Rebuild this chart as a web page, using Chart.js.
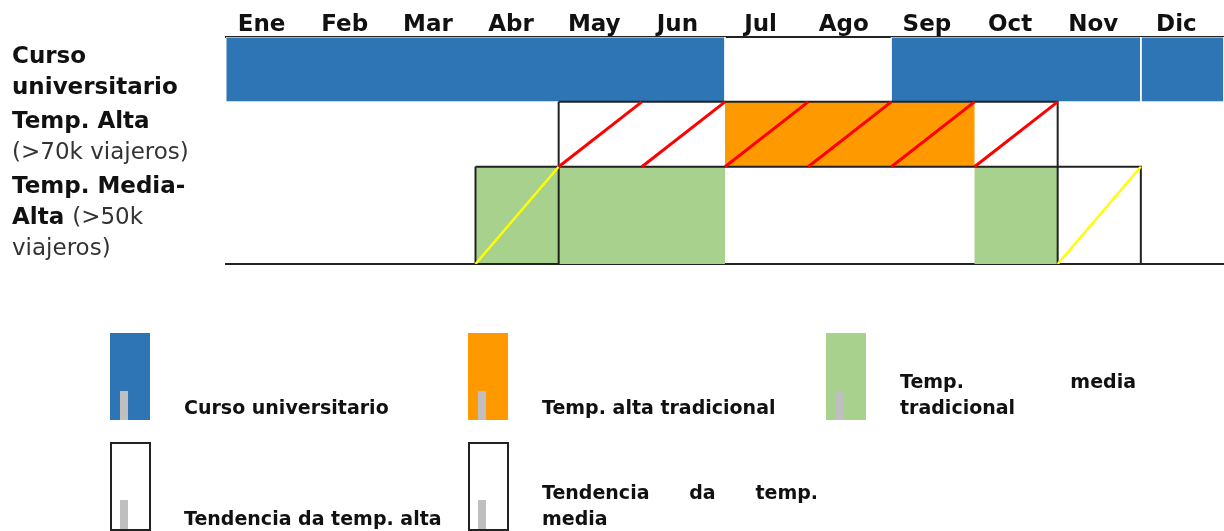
<!DOCTYPE html>
<html lang="es">
<head>
<meta charset="utf-8">
<title>Temporadas de viajeros</title>
<script src="https://cdn.jsdelivr.net/npm/chart.js@4.4.1/dist/chart.umd.min.js"></script>
<style>
  body { margin: 0; background: #fff; }
  #wrap { position: relative; width: 1224px; height: 531px; overflow: hidden; font-family: "DejaVu Sans", sans-serif; }
  #legend .item { position: absolute; display: flex; align-items: flex-end; }
  #legend .icon { position: relative; flex: none; box-sizing: border-box; width: 40px; height: 87px; }
  #legend .icon.outline { width: 41px; height: 89px; border: 2px solid #222; background: #fff; }
  #legend .icon i { position: absolute; left: 10px; bottom: 0; width: 8px; height: 29px; background: #bfbfbf; }
  #legend .icon.outline i { left: 8px; }
  #legend .lbl { font-weight: bold; font-size: 19px; line-height: 26px; text-align: justify; color: #111; }
</style>
</head>
<body>
<div id="wrap">
  <canvas id="gantt"></canvas>
  <div id="legend"></div>
</div>
<script>
const months = ['Ene', 'Feb', 'Mar', 'Abr', 'May', 'Jun', 'Jul', 'Ago', 'Sep', 'Oct', 'Nov', 'Dic'];

// tramos de meses [desde, hasta) con 0 = Ene
const cursoUniversitario = [[0, 6], [8, 11], [11, 12]];
const altaTradicional = [[6, 9]];
const mediaTradicional = [[3, 6], [9, 10]];
const tendenciaAlta = [[4, 10]];
const tendenciaMedia = [[3, 4], [10, 11]];

const rowLabels = [
  [[['Curso', true]], [['universitario', true]]],
  [[['Temp. Alta', true]], [['(>70k viajeros)', false]]],
  [[['Temp. Media-', true]], [['Alta', true], ['(>50k', false]], [['viajeros)', false]]],
];

// bandas verticales de cada fila en unidades del eje y
const rowBands = [[0, 2], [2, 4], [4, 7]];

const BLUE = '#2e75b6';
const ORANGE = '#ff9900';
const GREEN = '#a9d18e';
const RED = '#ff0000';
const YELLOW = '#ffff00';
const LINE = '#222';

function rects(ranges, band, style) {
  return ranges.map(([a, b]) => Object.assign({
    data: [
      { x: a, y: band[0] }, { x: b, y: band[0] },
      { x: b, y: band[1] }, { x: a, y: band[1] },
      { x: a, y: band[0] }
    ],
    pointRadius: 0,
    borderJoinStyle: 'miter'
  }, style));
}

function diagonals(ranges, band, color, width) {
  const out = [];
  ranges.forEach(([a, b]) => {
    for (let m = a; m < b; m++) {
      out.push({
        data: [{ x: m, y: band[1] }, { x: m + 1, y: band[0] }],
        pointRadius: 0,
        borderColor: color,
        borderWidth: width,
        fill: false,
        order: 1
      });
    }
  });
  return out;
}

const fillStyle = (color) => ({ backgroundColor: color, borderColor: 'transparent', borderWidth: 0, fill: 'shape', order: 3 });
const boxStyle = { borderColor: LINE, borderWidth: 2, fill: false, order: 2 };

const datasets = [
  ...rects(cursoUniversitario, rowBands[0], Object.assign(fillStyle(BLUE), { borderColor: '#fff', borderWidth: 1 })),
  ...rects(altaTradicional, rowBands[1], fillStyle(ORANGE)),
  ...rects(mediaTradicional, rowBands[2], fillStyle(GREEN)),
  ...rects(tendenciaAlta, rowBands[1], boxStyle),
  ...rects(tendenciaMedia, rowBands[2], boxStyle),
  ...diagonals(tendenciaAlta, rowBands[1], RED, 3),
  ...diagonals(tendenciaMedia, rowBands[2], YELLOW, 2.5)
];

const rowLabelPlugin = {
  id: 'rowLabels',
  afterDraw(chart) {
    const { ctx, scales: { y } } = chart;
    ctx.save();
    ctx.textBaseline = 'middle';
    rowLabels.forEach((lines, r) => {
      const top = y.getPixelForValue(rowBands[r][0]);
      lines.forEach((segs, i) => {
        let x = 12;
        const yy = top + 20 + i * 31;
        segs.forEach(([text, bold]) => {
          ctx.font = (bold ? 'bold ' : '') + '23px "DejaVu Sans"';
          ctx.fillStyle = bold ? '#111' : '#333';
          ctx.fillText(text, x, yy);
          x += ctx.measureText(text + ' ').width;
        });
      });
    });
    ctx.restore();
  }
};

new Chart(document.getElementById('gantt'), {
  type: 'line',
  data: { datasets },
  options: {
    responsive: true,
    maintainAspectRatio: false,
    animation: false,
    events: [],
    layout: { padding: { left: 226, right: 0, top: 0, bottom: 267 } },
    elements: { line: { tension: 0 } },
    plugins: { legend: { display: false }, tooltip: { enabled: false } },
    scales: {
      x: {
        type: 'linear',
        position: 'top',
        min: 0,
        max: 12,
        z: 1,
        grid: { display: false, drawTicks: false },
        border: { display: true, color: LINE, width: 2 },
        afterBuildTicks: (scale) => { scale.ticks = months.map((m, i) => ({ value: i + 0.5 })); },
        afterFit: (scale) => { scale.height = 37; },
        ticks: {
          autoSkip: false,
          maxRotation: 0,
          padding: -2,
          labelOffset: -6,
          color: '#111',
          font: { family: 'DejaVu Sans', size: 23, weight: 'bold' },
          callback: (v, i) => months[i]
        }
      },
      xb: {
        type: 'linear',
        axis: 'x',
        position: 'bottom',
        min: 0,
        max: 12,
        z: 1,
        grid: { display: false, drawTicks: false },
        ticks: { display: false },
        border: { display: true, color: LINE, width: 2 },
        afterFit: (scale) => { scale.height = 0; }
      },
      y: {
        type: 'linear',
        reverse: true,
        min: 0,
        max: 7,
        display: false
      }
    }
  },
  plugins: [rowLabelPlugin]
});

// leyenda
const legendItems = [
  { label: 'Curso universitario', color: BLUE },
  { label: 'Temp. alta tradicional', color: ORANGE },
  { label: 'Temp. media tradicional', color: GREEN },
  { label: 'Tendencia da temp. alta', outline: true },
  { label: 'Tendencia da temp. media', outline: true }
];
const legendCols = [110, 468, 826];
const legendRows = [333, 442];
const labelWidths = [290, 276, 236];
const legend = document.getElementById('legend');
legendItems.forEach((it, k) => {
  const col = k % 3, row = Math.floor(k / 3);
  const item = document.createElement('div');
  item.className = 'item';
  item.style.left = legendCols[col] + 'px';
  item.style.top = legendRows[row] + 'px';
  const icon = document.createElement('div');
  icon.className = 'icon' + (it.outline ? ' outline' : '');
  if (!it.outline) icon.style.background = it.color;
  icon.appendChild(document.createElement('i'));
  const lbl = document.createElement('div');
  lbl.className = 'lbl';
  lbl.textContent = it.label;
  lbl.style.width = labelWidths[col] + 'px';
  lbl.style.marginLeft = (it.outline ? 33 : 34) + 'px';
  item.appendChild(icon);
  item.appendChild(lbl);
  legend.appendChild(item);
});
</script>
</body>
</html>
